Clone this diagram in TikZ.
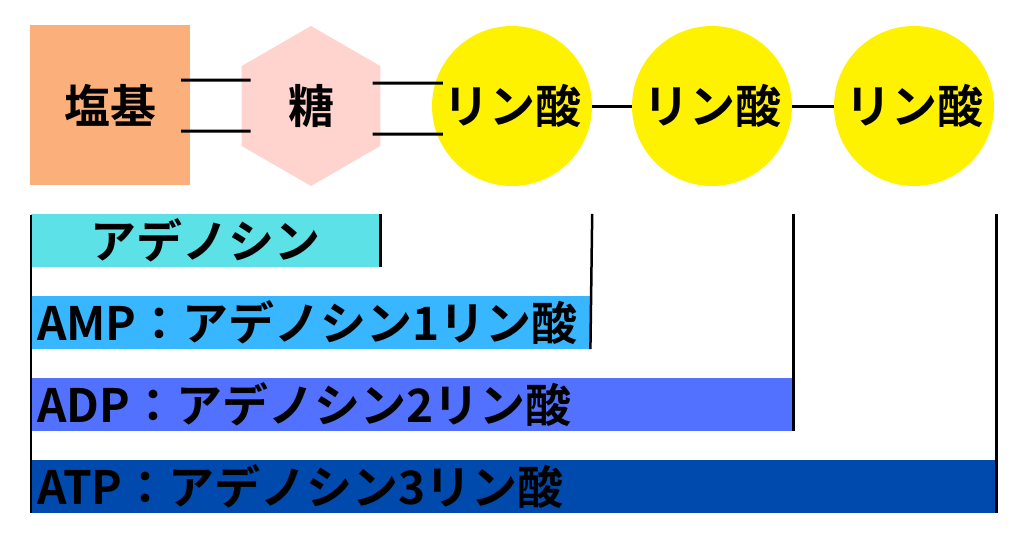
\documentclass[tikz,border=0pt]{standalone}
\usepackage{fontspec}
\usepackage{tikz}
\usetikzlibrary{shapes.geometric}
\newfontfamily\jpfont{Noto Sans CJK JP Bold}
\definecolor{basecol}{HTML}{FBAF7A}
\definecolor{sugarcol}{HTML}{FFD4CE}
\definecolor{phoscol}{HTML}{FFF200}
\definecolor{adocol}{HTML}{5CE1E6}
\definecolor{ampcol}{HTML}{38B6FF}
\definecolor{adpcol}{HTML}{5271FF}
\definecolor{atpcol}{HTML}{004AAD}

\begin{document}
\begin{tikzpicture}[x=1pt,y=-1pt,
		every node/.style={font=\jpfont\fontsize{46}{50}\selectfont},
		basebox/.style={rectangle,fill=basecol,minimum size=160,inner sep=0},
		sugarbox/.style={regular polygon,regular polygon sides=6,shape border rotate=30,fill=sugarcol,minimum size=160,inner sep=0},
		phosbox/.style={circle,fill=phoscol,minimum size=160,inner sep=0},
		bond/.style={line width=3pt},
		bar/.style={rectangle,anchor=west,minimum height=53,inner xsep=6,inner ysep=0,align=left},
		rule/.style={line width=2.5pt}]
			\useasboundingbox (0,0) rectangle (1024,536);
			\node[basebox] (base) at (110,105) {塩基};
			\node[sugarbox] (sugar) at (311,106) {糖};
			\node[phosbox] (p1) at (512,106) {リン酸};
			\node[phosbox] (p2) at (712,106) {リン酸};
			\node[phosbox] (p3) at (914,106) {リン酸};
			\draw[bond] ([shift={(-9,-25)}]base.east) -- ([shift={(9,-26)}]sugar.west);
			\draw[bond] ([shift={(-9,26)}]base.east) -- ([shift={(9,25)}]sugar.west);
			\draw[bond] ([shift={(-8,-23)}]sugar.east) -- ([shift={(11,-23)}]p1.west);
			\draw[bond] ([shift={(-8,28)}]sugar.east) -- ([shift={(11,28)}]p1.west);
			\draw[bond] (p1) -- (p2);
			\draw[bond] (p2) -- (p3);
			\node[bar,fill=adocol,minimum width=349,align=center] (ado) at (31,240.5) {アデノシン};
			\node[bar,fill=ampcol,text width=547] (amp) at (31,322.5) {AMP：アデノシン1リン酸};
			\node[bar,fill=adpcol,text width=750] (adp) at (31,404.5) {ADP：アデノシン2リン酸};
			\node[bar,fill=atpcol,text width=953] (atp) at (31,486.5) {ATP：アデノシン3リン酸};
			\draw[rule] ([yshift=-1]ado.north west) -- (atp.south west);
			\draw[rule] (ado.north east) -- (ado.south east);
			\draw[rule] (p1.east |- ado.north) -- (amp.south east);
			\draw[rule] (adp.east |- ado.north) -- (adp.south east);
			\draw[rule] (atp.east |- ado.north) -- (atp.south east);
		\end{tikzpicture}
\end{document}
